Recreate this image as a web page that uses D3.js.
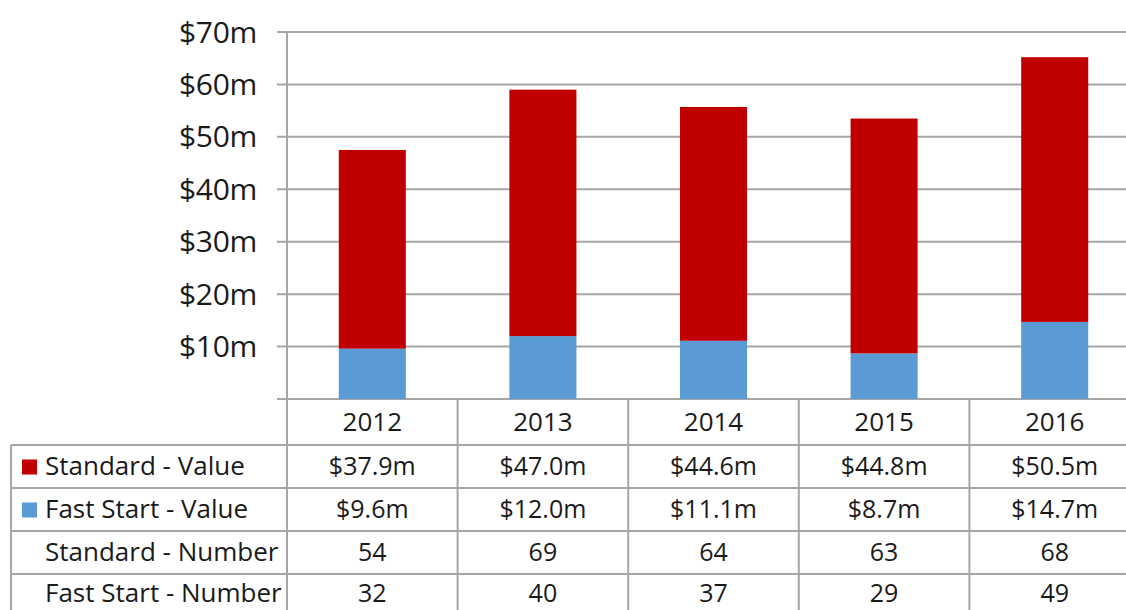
<!DOCTYPE html>
<html>
<head>
<meta charset="utf-8">
<script src="https://cdn.jsdelivr.net/npm/d3@7"></script>
<style>
  body { margin: 0; background: #fff; }
  text { font-family: "Open Sans", sans-serif; fill: #1a1a1a; }
</style>
</head>
<body>
<svg id="chart" width="1126" height="610"></svg>
<script>
const years = ["2012", "2013", "2014", "2015", "2016"];
const standardValue = [37.9, 47.0, 44.6, 44.8, 50.5];
const fastStartValue = [9.6, 12.0, 11.1, 8.7, 14.7];
const standardNumber = [54, 69, 64, 63, 68];
const fastStartNumber = [32, 40, 37, 29, 49];
const yTicks = [0, 10, 20, 30, 40, 50, 60, 70];

const red = "#c00000";
const blue = "#5b9bd5";
const gridColor = "#a6a6a6";

const svg = d3.select("#chart");

const plotLeft = 287;
const plotRight = 1140;
const baseY = 399;
const topY = 32;

let x = d3.scaleBand()
    .domain(years)
    .range([plotLeft, plotRight])
    .paddingInner(0.607)
    .paddingOuter(0.3035);

// columns of the table use the same band without padding
let col = d3.scaleBand().domain(years).range([plotLeft, plotRight]);

let y = d3.scaleLinear().domain([0, 70]).range([baseY, topY]);

// gridlines + tick marks
svg.append("g").selectAll("line")
    .data(yTicks)
    .enter().append("line")
    .attr("x1", plotLeft - 10)
    .attr("x2", 1126)
    .attr("y1", d => y(d))
    .attr("y2", d => y(d))
    .attr("stroke", gridColor)
    .attr("stroke-width", 2);

// y labels
svg.append("g").selectAll("text")
    .data(yTicks.filter(d => d > 0))
    .enter().append("text")
    .attr("x", 257)
    .attr("y", d => y(d))
    .attr("dy", "0.35em")
    .attr("text-anchor", "end")
    .style("font-size", "30px")
    .style("letter-spacing", "-0.3px")
    .text(d => "$" + d + "m");

// stacked bars
let stackData = years.map((yr, i) => ({year: yr, fast: fastStartValue[i], standard: standardValue[i]}));
let series = d3.stack().keys(["fast", "standard"])(stackData);
let colors = {fast: blue, standard: red};

svg.append("g").selectAll("g")
    .data(series)
    .enter().append("g")
    .attr("fill", d => colors[d.key])
    .selectAll("rect")
    .data(d => d)
    .enter().append("rect")
    .attr("x", d => x(d.data.year))
    .attr("width", x.bandwidth())
    .attr("y", d => y(d[1]))
    .attr("height", d => y(d[0]) - y(d[1]));

// data table
const headerBottom = 445;
const rowH = 43;
const rows = [
    {label: "Standard - Value", color: red, values: standardValue.map(v => "$" + v.toFixed(1) + "m")},
    {label: "Fast Start - Value", color: blue, values: fastStartValue.map(v => "$" + v.toFixed(1) + "m")},
    {label: "Standard - Number", color: null, values: standardNumber.map(String)},
    {label: "Fast Start - Number", color: null, values: fastStartNumber.map(String)}
];
let rowY = d3.scaleBand().domain(d3.range(rows.length)).range([headerBottom, headerBottom + rowH * rows.length]);

let table = svg.append("g");

// horizontal lines
table.selectAll(".hline")
    .data(d3.range(rows.length + 1))
    .enter().append("line")
    .attr("x1", 11).attr("x2", 1126)
    .attr("y1", d => headerBottom + d * rowH)
    .attr("y2", d => headerBottom + d * rowH)
    .attr("stroke", gridColor).attr("stroke-width", 2);

// vertical lines
table.selectAll(".vline")
    .data(years.slice(1))
    .enter().append("line")
    .attr("x1", d => col(d)).attr("x2", d => col(d))
    .attr("y1", baseY).attr("y2", 610)
    .attr("stroke", gridColor).attr("stroke-width", 2);
table.append("line")
    .attr("x1", plotLeft).attr("x2", plotLeft)
    .attr("y1", topY).attr("y2", 610)
    .attr("stroke", gridColor).attr("stroke-width", 2);
table.append("line")
    .attr("x1", 11).attr("x2", 11)
    .attr("y1", headerBottom).attr("y2", 610)
    .attr("stroke", gridColor).attr("stroke-width", 2);

// year header
table.selectAll(".year")
    .data(years)
    .enter().append("text")
    .attr("x", d => col(d) + col.bandwidth() / 2)
    .attr("y", (baseY + headerBottom) / 2)
    .attr("dy", "0.35em")
    .attr("text-anchor", "middle")
    .style("font-size", "26px")
    .text(d => d);

let rowG = table.selectAll(".row")
    .data(rows)
    .enter().append("g")
    .attr("transform", (d, i) => "translate(0," + (rowY(i) + rowY.bandwidth() / 2 - (i === rows.length - 1 ? 2 : 0)) + ")");

rowG.filter(d => d.color)
    .append("rect")
    .attr("x", 22).attr("y", -7)
    .attr("width", 15).attr("height", 15)
    .attr("fill", d => d.color);

rowG.append("text")
    .attr("x", 45)
    .attr("dy", "0.33em")
    .style("font-size", "26px")
    .text(d => d.label);

rowG.selectAll(".val")
    .data(d => d.values)
    .enter().append("text")
    .attr("x", (d, i) => col(years[i]) + col.bandwidth() / 2)
    .attr("dy", "0.33em")
    .attr("text-anchor", "middle")
    .style("font-size", "25px")
    .text(d => d);
</script>
</body>
</html>
